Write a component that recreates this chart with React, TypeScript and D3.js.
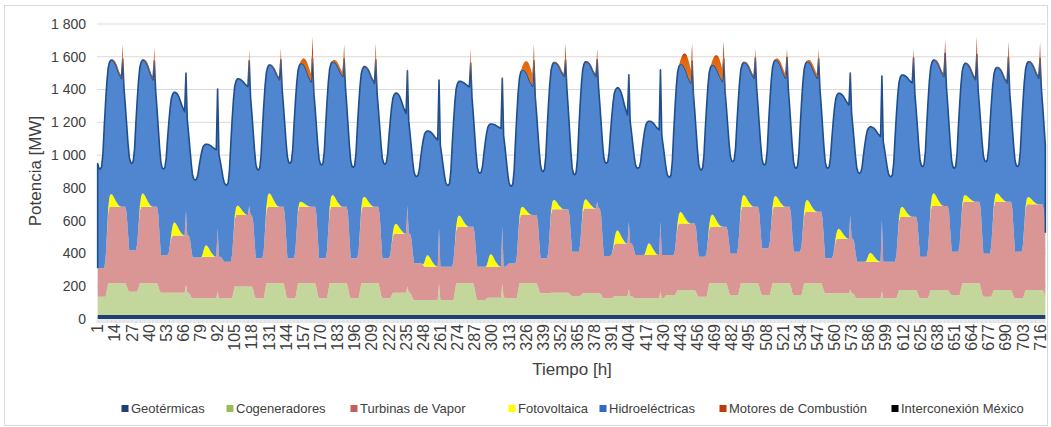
import React, { useMemo } from "react";
import * as d3 from "d3";

const W = 1051;
const H = 427;
const PLOT = { left: 97, right: 1046, top: 24, bottom: 319 };

// ---- categories / axis ----
const categories: number[] = d3.range(1, 721);
const xTickLabels: number[] = d3.range(1, 721, 13);
const yTicks: number[] = [0, 200, 400, 600, 800, 1000, 1200, 1400, 1600, 1800];

// ---- per-day readings (30 days) ----
// hydro top (cumulative stack top below motors), MW
const hydroMorningMin = [915, 950, 915, 848, 817, 909, 950, 940, 925, 945, 870, 815, 890, 810, 900, 880, 950, 920, 865, 909, 960, 940, 920, 920, 889, 868, 930, 920, 960, 930];
const hydroPeak = [1580, 1580, 1383, 1066, 1465, 1550, 1560, 1570, 1540, 1378, 1147, 1450, 1190, 1520, 1565, 1570, 1410, 1207, 1555, 1550, 1565, 1580, 1570, 1377, 1172, 1489, 1580, 1560, 1535, 1570];
const hydroAfternoon = [1468, 1460, 1265, 1032, 1417, 1460, 1447, 1480, 1437, 1255, 1092, 1417, 1163, 1420, 1480, 1480, 1245, 1153, 1440, 1450, 1470, 1470, 1470, 1306, 1113, 1440, 1480, 1460, 1440, 1470];
const totalEveningSpike = [1676, 1656, 1520, 1403, 1646, 1652, 1723, 1676, 1682, 1545, 1458, 1652, 1489, 1676, 1682, 1652, 1510, 1530, 1682, 1697, 1652, 1656, 1648, 1520, 1483, 1652, 1709, 1723, 1697, 1690];
const hydroStartPrev = 1400;
const hydroEndMin = 930;

// motors
const motorsSpike = [90, 80, 20, 0, 70, 70, 130, 90, 100, 30, 0, 90, 20, 100, 100, 70, 20, 10, 110, 110, 60, 60, 60, 20, 0, 60, 90, 110, 100, 100];
const motorsHump = [10, 10, 0, 0, 0, 5, 60, 25, 5, 0, 0, 0, 0, 90, 10, 5, 0, 0, 110, 100, 10, 25, 25, 0, 0, 0, 10, 5, 5, 5];

// steam turbines (cumulative top)
const vaporNightTop = [309, 420, 390, 375, 350, 370, 370, 370, 370, 370, 340, 319, 319, 339, 370, 410, 385, 390, 390, 380, 400, 431, 410, 370, 350, 350, 380, 410, 400, 410];
const vaporDayTop = [685, 685, 510, 380, 635, 685, 685, 685, 685, 520, 319, 563, 319, 634, 670, 675, 460, 390, 583, 563, 685, 685, 655, 490, 350, 624, 690, 716, 716, 700];
const vaporSpikeTop: (number | null)[] = [null, null, 661, 553, 689, null, null, null, null, 689, 557, null, 563, null, null, 716, 593, 593, null, null, null, null, null, 634, 604, null, null, null, null, null];

// cogeneration (cumulative top)
const cogenNightTop = [136, 167, 160, 126, 126, 126, 126, 126, 126, 126, 116, 116, 116, 126, 157, 140, 126, 126, 146, 136, 146, 146, 146, 157, 126, 126, 126, 146, 136, 126];
const cogenDayTop = [218, 218, 160, 126, 200, 218, 218, 218, 218, 160, 116, 218, 130, 218, 160, 157, 140, 126, 177, 218, 218, 218, 218, 157, 126, 177, 177, 218, 177, 177];
const cogenSpikeTop: (number | null)[] = [null, null, 210, 167, null, null, null, null, null, 200, 218, null, 218, null, null, null, 180, 170, null, null, null, null, null, 180, 170, null, null, null, null, null];

// photovoltaic daily peak (MW)
const pvPeak = [78, 82, 80, 70, 57, 82, 31, 72, 61, 61, 71, 69, 77, 51, 57, 55, 81, 72, 71, 75, 72, 65, 71, 60, 54, 61, 78, 40, 51, 44];

const geoLevel = 25;
const mexicoLevel = 0;

// ---- typical hourly shapes (24 h) ----
const hydroShape = [0.93, 0.99, 1, 0.02, 0.14, 0.39, 0.61, 0.8, 0.93, 0.98, 1, 1, 0.05, 0.15, 0.3, 0.5, 0.7, 0.85, 1, 1, 0.12, 0.32, 0.54, 0.76];
const vaporShape = [0, 0, 0, 0, 0, 0, 0.15, 0.55, 0.9, 1, 1, 1, 1, 1, 1, 1, 1, 1, 1, 1, 1, 1, 0.15, 0.6];
const cogenShape = [0, 0, 0, 0, 0, 0, 0, 0.5, 1, 1, 1, 1, 1, 1, 1, 1, 1, 1, 1, 1, 1, 1, 0.3, 0.8];
const pvShape = [0, 0, 0, 0, 0, 0, 0, 0.05, 0.4, 0.8, 1, 0.95, 0.8, 0.6, 0.4, 0.25, 0.1, 0.03, 0, 0, 0, 0, 0, 0];
const motorsShape = [0, 0, 0, 0, 0, 0, 0, 0, 0, 0, 0.2, 0.4, 0.6, 0.75, 0.9, 1, 1, 0.9, 0.7, 0, 0.2, 0, 0, 0];

const keys = ["geo", "cogen", "vapor", "pv", "hydro", "motors", "mexico"];
const names = ["Geotérmicas", "Cogeneradores", "Turbinas de Vapor", "Fotovoltaica", "Hidroeléctricas", "Motores de Combustión", "Interconexión México"];
const fills = ["#1f3f77", "#c3d69b", "#d99694", "#ffff00", "#4f86cf", "url(#motorsGrad)", "#000000"];
const legendColors = ["#1f3f77", "#9bbb59", "#c0605d", "#ffff00", "#2e6bc4", "#c0390b", "#000000"];
const legendX = [125, 230, 354, 512, 603, 723, 895];

type Row = { [k: string]: number };

function buildRows(): Row[] {
  const rows: Row[] = [];
  for (let d = 0; d < 30; d++) {
    const m = hydroMorningMin[d];
    const p = hydroPeak[d];
    const a = hydroAfternoon[d];
    const aPrev = d === 0 ? hydroStartPrev : hydroAfternoon[d - 1];
    const mNext = d === 29 ? hydroEndMin : hydroMorningMin[d + 1];
    const N = vaporNightTop[d];
    const D = vaporDayTop[d];
    const Nn = d === 29 ? N : vaporNightTop[d + 1];
    const GN = cogenNightTop[d];
    const GD = cogenDayTop[d];
    const GNn = d === 29 ? GN : cogenNightTop[d + 1];
    for (let i = 0; i < 24; i++) {
      const f = hydroShape[i];
      let T: number;
      if (i <= 2) T = aPrev + f * (m - aPrev);
      else if (i <= 11) T = m + f * (p - m);
      else if (i <= 18) T = p + f * (a - p);
      else if (i === 19) T = totalEveningSpike[d] - motorsSpike[d];
      else T = a + f * (mNext - a);

      let P: number;
      if (i <= 21) P = N + vaporShape[i] * (D - N);
      else P = D + vaporShape[i] * (Nn - D);
      if (i === 19 && vaporSpikeTop[d] != null) P = Math.max(P, vaporSpikeTop[d] as number);

      let G: number;
      if (i <= 21) G = GN + cogenShape[i] * (GD - GN);
      else G = GD + cogenShape[i] * (GNn - GD);
      if (i === 19 && cogenSpikeTop[d] != null) G = Math.max(G, cogenSpikeTop[d] as number);

      const pv = pvPeak[d] * pvShape[i];
      const motors = i === 19 ? motorsSpike[d] : motorsHump[d] * motorsShape[i];
      const hydro = Math.max(0, T - P - pv);
      rows.push({
        hour: d * 24 + i + 1,
        geo: geoLevel,
        cogen: G - geoLevel,
        vapor: P - G,
        pv,
        hydro,
        motors,
        mexico: mexicoLevel,
      });
    }
  }
  return rows;
}

function fmtY(v: number): string {
  if (v >= 1000) return `${Math.floor(v / 1000)} ${String(v % 1000).padStart(3, "0")}`;
  return String(v);
}

export default function App() {
  const rows = useMemo(buildRows, []);
  const stacked = useMemo(() => d3.stack<Row>().keys(keys)(rows), [rows]);
  const x = d3.scalePoint<number>().domain(categories).range([PLOT.left, PLOT.right]).padding(0.5);
  const y = d3.scaleLinear().domain([0, 1800]).range([PLOT.bottom, PLOT.top]);
  const area = d3
    .area<any>()
    .x((d: any) => x(d.data.hour) as number)
    .y0((d: any) => y(d[0]))
    .y1((d: any) => y(d[1]));
  const hydroS = stacked[4];
  const first = hydroS[0];
  const last = hydroS[hydroS.length - 1];
  const hydroTopLine =
    `M${x(first.data.hour)},${y(first[0])}` +
    hydroS.map((d: any) => `L${x(d.data.hour)},${y(d[1])}`).join("") +
    `L${x(last.data.hour)},${y(last[0])}`;
  const step = x.step();
  const font = "'Liberation Sans', Arial, sans-serif";

  return (
    <svg width={W} height={H} style={{ position: "absolute", left: 0, top: 0, background: "#fff" }} fontFamily={font}>
      <defs>
        <linearGradient id="motorsGrad" gradientUnits="userSpaceOnUse" x1={0} x2={0} y1={y(1750)} y2={y(1450)}>
          <stop offset="0" stopColor="#8e2508" />
          <stop offset="0.4" stopColor="#a8320c" />
          <stop offset="0.55" stopColor="#e0640f" />
          <stop offset="1" stopColor="#e9761a" />
        </linearGradient>
      </defs>
      <rect x={4.5} y={5.5} width={1043} height={420} fill="#fff" stroke="#d9d9d9" />
      {yTicks.map((t) => (
        <line key={t} x1={PLOT.left} x2={PLOT.right} y1={y(t)} y2={y(t)} stroke="#d9d9d9" strokeWidth={1} />
      ))}
      {stacked.slice(0, 5).map((s, k) => (
        <path key={keys[k]} d={area(s as any) || ""} fill={fills[k]} />
      ))}
      <path d={hydroTopLine} fill="none" stroke="#1f4e8c" strokeWidth={1.6} strokeLinejoin="round" />
      {stacked.slice(5).map((s, j) => (
        <path key={keys[j + 5]} d={area(s as any) || ""} fill={fills[j + 5]} />
      ))}
      {/* category ticks */}
      {categories.map((c, i) => {
        const xx = PLOT.left + i * step;
        return <line key={c} x1={xx} x2={xx} y1={PLOT.bottom + 1} y2={PLOT.bottom + 4} stroke="#c8c8c8" strokeWidth={0.6} />;
      })}
      {yTicks.map((t) => (
        <text key={t} x={86} y={y(t)} dy="0.35em" textAnchor="end" fontSize={14} fill="#404040">
          {fmtY(t)}
        </text>
      ))}
      {xTickLabels.map((c) => (
        <text key={c} transform={`translate(${x(c)},${PLOT.bottom + 5}) rotate(-90)`} dy="0.35em" textAnchor="end" fontSize={16} fill="#404040">
          {c}
        </text>
      ))}
      <text transform={`translate(41,171) rotate(-90)`} textAnchor="middle" fontSize={17} fill="#404040">
        Potencia [MW]
      </text>
      <text x={572} y={375} textAnchor="middle" fontSize={17} fill="#404040">
        Tiempo [h]
      </text>
      {names.map((n, k) => (
        <g key={n}>
          <rect x={legendX[k] - 3.5} y={405} width={7} height={7} fill={legendColors[k]} />
          <text x={legendX[k] + 6} y={413} fontSize={13} fill="#404040">
            {n}
          </text>
        </g>
      ))}
    </svg>
  );
}
